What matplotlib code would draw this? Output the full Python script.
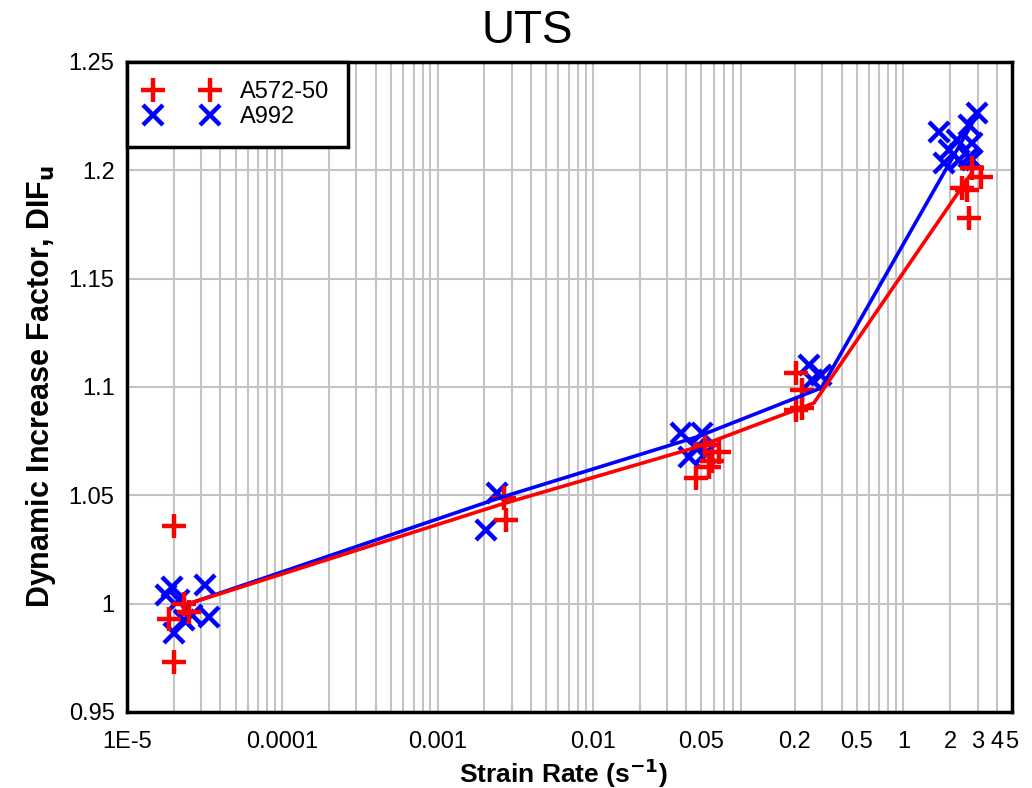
import matplotlib
matplotlib.use('Agg')
import matplotlib.pyplot as plt
from matplotlib.ticker import FixedLocator, LogLocator, NullFormatter

plt.rcParams['font.family'] = ['Liberation Sans', 'DejaVu Sans']

# A572-50 test points (strain rate, DIF)
a572_rate = [2.0e-5, 1.86e-5, 2.0e-5, 2.33e-5, 2.5e-5,
             0.00276, 0.00268,
             0.0461, 0.056, 0.0649, 0.0581, 0.053,
             0.203, 0.222, 0.203, 0.222,
             2.76, 3.16, 2.56, 2.64, 2.38]
a572_dif = [1.036, 0.993, 0.973, 1.000, 0.996,
            1.0386, 1.0488,
            1.058, 1.0631, 1.070, 1.066, 1.0733,
            1.1065, 1.0986, 1.0894, 1.0903,
            1.2011, 1.1969, 1.1909, 1.178, 1.1919]
# A992 test points
a992_rate = [1.95e-5, 3.2e-5, 3.37e-5, 2.0e-5, 2.33e-5, 2.62e-5, 1.78e-5, 2.16e-5,
             0.00241, 0.00205,
             0.0369, 0.0504, 0.0416, 0.0535, 0.046,
             0.246, 0.294, 0.258,
             1.69, 2.64, 2.97, 2.21, 1.96, 2.76, 2.64, 1.82, 2.28, 2.76]
a992_dif = [1.0077, 1.0087, 0.9939, 0.9865, 0.9925, 0.9948, 1.004, 1.0017,
            1.0511, 1.034,
            1.0788, 1.0788, 1.0677, 1.0696, 1.0720,
            1.110, 1.1056, 1.1033,
            1.2177, 1.2209, 1.2265, 1.214, 1.2094, 1.2126, 1.2062, 1.2034, 1.2048, 1.2048]

# fitted lines
a572_fit_rate = [2.5e-5, 0.0025, 0.047, 0.265, 2.7]
a572_fit_dif = [1.000, 1.0456, 1.0723, 1.0926, 1.198]
a992_fit_rate = [2.5e-5, 0.0025, 0.047, 0.296, 2.97]
a992_fit_dif = [1.000, 1.0488, 1.077, 1.0996, 1.2255]

xticks = [1e-5, 1e-4, 1e-3, 1e-2, 0.05, 0.2, 0.5, 1, 2, 3, 4, 5]
xtick_labels = ['1E-5', '0.0001', '0.001', '0.01', '0.05', '0.2', '0.5', '1', '2', '3', '4', '5']
yticks = [0.95, 1.0, 1.05, 1.1, 1.15, 1.2, 1.25]
ytick_labels = ['0.95', '1', '1.05', '1.1', '1.15', '1.2', '1.25']

fig = plt.figure(figsize=(10.32, 7.88), dpi=100)
ax = fig.add_axes([127/1032, 76/788, 885/1032, 650/788])

ax.plot(a992_rate, a992_dif, 'x', color='#0000ff', ms=15, mew=3.2, label='A992', zorder=3)
ax.plot(a572_rate, a572_dif, '+', color='#ff0000', ms=17, mew=3.2, label='A572-50', zorder=3)
ax.plot(a992_fit_rate, a992_fit_dif, '-', color='#0000ff', lw=2.6, zorder=4)
ax.plot(a572_fit_rate, a572_fit_dif, '-', color='#ff0000', lw=2.6, zorder=4)

ax.set_xscale('log')
ax.set_xlim(1e-5, 5)
ax.set_ylim(0.95, 1.25)
ax.xaxis.set_major_locator(FixedLocator(xticks))
ax.set_xticklabels(xtick_labels)
ax.xaxis.set_minor_locator(LogLocator(base=10, subs=range(2, 10), numticks=20))
ax.xaxis.set_minor_formatter(NullFormatter())
ax.set_yticks(yticks)
ax.set_yticklabels(ytick_labels)
ax.grid(True, which='both', axis='x', color='#c4c4c4', lw=1.5)
ax.grid(True, which='major', axis='y', color='#c4c4c4', lw=1.5)
ax.set_axisbelow(True)
ax.tick_params(which='both', length=0, labelsize=17)
ax.tick_params(axis='x', pad=14)
ax.tick_params(axis='y', pad=9)
for s in ax.spines.values():
    s.set_linewidth(2.5)

ax.set_title('UTS', fontsize=33, pad=14, x=0.452)
fig.text(0.546, 1 - 773/788, 'Strain Rate (s$^{\\mathbf{-1}}$)', fontsize=19,
         fontweight='bold', ha='center', va='center')
ax.set_ylabel('Dynamic Increase Factor, DIF$_{\\mathbf{u}}$', fontsize=22, fontweight='bold', labelpad=8)

h, l = ax.get_legend_handles_labels()
leg = ax.legend(h[::-1], l[::-1], loc='upper left', numpoints=2, fontsize=17,
                fancybox=False, framealpha=1, edgecolor='black', borderaxespad=0,
                handlelength=3, handletextpad=1.0, borderpad=0.8, labelspacing=0.15)
leg.get_frame().set_linewidth(2.5)

fig.savefig('out.png', dpi=100)
